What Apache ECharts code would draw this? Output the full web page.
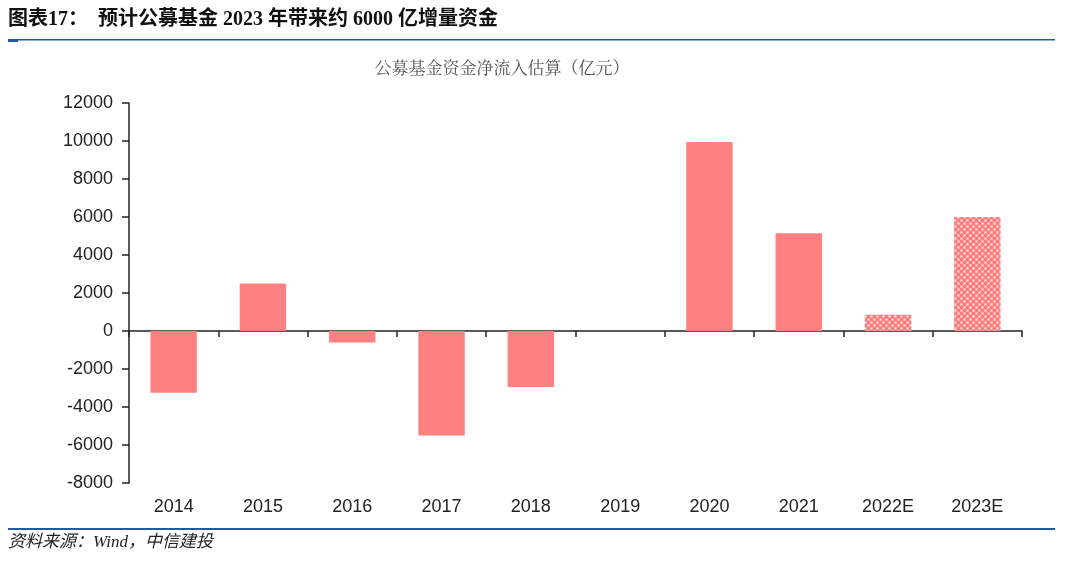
<!DOCTYPE html>
<html><head><meta charset="utf-8">
<script src="https://cdn.jsdelivr.net/npm/echarts@6/dist/echarts.min.js"></script>
<style>html,body{margin:0;padding:0;background:#fff}#c{width:1080px;height:570px}</style>
</head><body><div id="c"></div>
<script>
const categories = ['2014','2015','2016','2017','2018','2019','2020','2021','2022E','2023E'];
const values = [-3250, 2500, -600, -5500, -2950, 0, 9950, 5150, 850, 6000];
const estimated = [false,false,false,false,false,false,false,false,true,true];
const yTicks = {min:-8000, max:12000, interval:2000};

const pink = '#FF8080';
const cv = document.createElement('canvas');
cv.width = 6; cv.height = 6;
const cx = cv.getContext('2d');
cx.fillStyle = '#FFE0E0'; cx.fillRect(0,0,6,6);
cx.fillStyle = '#FF7A7A';
cx.fillRect(0,0,3,3); cx.fillRect(3,3,3,3);
cx.fillStyle = '#FFA8A8';
cx.fillRect(3,0,3,3); cx.fillRect(0,3,3,3);
cx.fillStyle = '#FFFFFF';
cx.fillRect(4,1,1,1); cx.fillRect(1,4,1,1);

const chart = echarts.init(document.getElementById('c'));
const font = '"Liberation Sans", Arial, sans-serif';
chart.setOption({
  animation:false,
  backgroundColor:'#fff',
  title:{text:'公募基金资金净流入估算（亿元）', left:497, top:54, textAlign:'center',
    textStyle:{fontFamily:'"Noto Serif CJK SC","Noto Sans CJK SC",serif', fontWeight:'normal', fontSize:17, color:'#555'}},
  graphic:[
    {type:'text', left:8, top:10, style:{text:'图表17：  预计公募基金 2023 年带来约 6000 亿增量资金', font:'bold 20px "Liberation Serif","Noto Sans CJK SC",serif', fill:'#111'}},
    {type:'rect', shape:{x:8,y:39,width:1047,height:1.5}, style:{fill:'#1F5C99'}},
    {type:'rect', shape:{x:8,y:39,width:10,height:3}, style:{fill:'#1F5C99'}},
    {type:'rect', shape:{x:8,y:528,width:1047,height:2}, style:{fill:'#1F5C99'}},
    {type:'text', left:8, top:534, style:{text:'资料来源：Wind，中信建投', font:'italic 17px "Liberation Serif","Noto Sans CJK SC",serif', fill:'#222'}}
  ],
  grid:{left:129, right:58, top:103, bottom:87},
  xAxis:[
    {type:'category', data:categories, position:'bottom', axisLine:{show:false, onZero:false}, axisTick:{show:false},
     axisLabel:{fontFamily:font, fontSize:18, color:'#222', margin:15}},
    {type:'category', data:categories, position:'top', axisLine:{onZero:true, lineStyle:{color:'#222', width:1.5}},
     axisTick:{show:true, inside:true, length:6, lineStyle:{color:'#222', width:1.5}}, axisLabel:{show:false}}
  ],
  yAxis:{type:'value', min:yTicks.min, max:yTicks.max, interval:yTicks.interval,
    axisLine:{show:true, lineStyle:{color:'#222', width:1.5}},
    axisTick:{show:true, length:7, lineStyle:{color:'#222', width:1.5}},
    splitLine:{show:false},
    axisLabel:{fontFamily:font, fontSize:18, color:'#222', margin:16, formatter:v=>String(v)}},
  series:[{type:'bar', xAxisIndex:0, barWidth:'52%',
    data: values.map((v,i)=>({value:v, itemStyle:{color: estimated[i] ? {image:cv, repeat:'repeat'} : pink}}))
  }]
});
</script></body></html>
